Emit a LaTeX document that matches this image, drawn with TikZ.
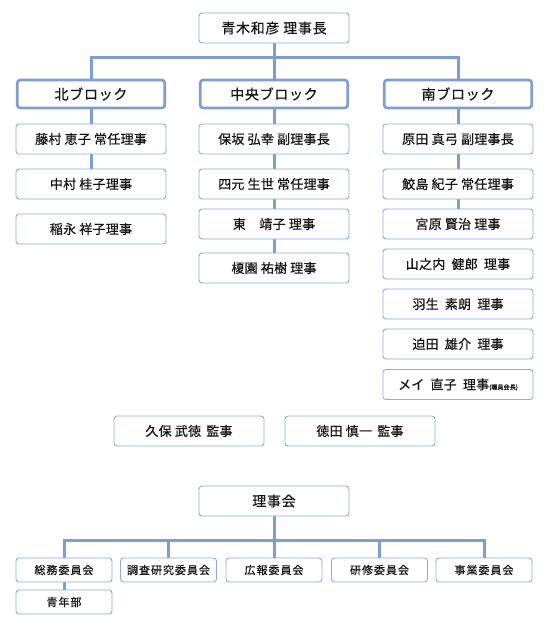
\documentclass[tikz,border=0pt]{standalone}
\usepackage{fontspec}
\setmainfont{Noto Sans CJK JP}
\newfontfamily\jpA{Noto Sans CJK JP}[LetterSpace=5,FakeBold=0.5]
\newfontfamily\jpB{Noto Sans CJK JP}[LetterSpace=2,FakeBold=0.5]
\newfontfamily\jpC{Noto Sans CJK JP}[LetterSpace=9,FakeBold=0.4]
\usetikzlibrary{backgrounds}
\definecolor{linec}{RGB}{124,158,212}
\definecolor{boxc}{RGB}{140,172,222}
\definecolor{txt}{RGB}{20,20,20}
\tikzset{
  box/.style={draw=boxc, line width=0.9pt, rounded corners=3pt, fill=white,
    minimum width=150pt, minimum height=30pt, inner sep=0pt, text=txt,
    font=\jpB\fontsize{13}{15}\selectfont},
  head/.style={box, font=\jpA\fontsize{14}{16}\selectfont},
  blockbox/.style={head, draw=linec, line width=2.6pt, minimum width=147.5pt, minimum height=28pt},
  comm/.style={box, minimum width=96pt, minimum height=24pt, font=\jpC\fontsize{11}{13}\selectfont}
}
\tikzset{conn/.style={draw=linec, line width=3pt}}
\begin{document}
\begin{tikzpicture}[x=1pt,y=-1pt]
\useasboundingbox (0,0) rectangle (550,630);
% top
\node[head] (top) at (274,28) {青木和彦 理事長};
\coordinate (j1) at (274,57);
\node[blockbox] (north) at (91,94) {北ブロック};
\node[blockbox] (center) at (274,94) {中央ブロック};
\node[blockbox] (south) at (458,94) {南ブロック};
% north
\node[box] (n1) at (91,139) {藤村 恵子 常任理事};
\node[box] (n2) at (91,184) {中村 桂子理事};
\node[box] (n3) at (91,229) {稲永 祥子理事};
% center
\node[box] (c1) at (274,139) {保坂 弘幸 副理事長};
\node[box] (c2) at (274,184) {四元 生世 常任理事};
\node[box] (c3) at (274,224) {東　靖子 理事};
\node[box] (c4) at (274,268) {榎園 祐樹 理事};
% south
\node[box] (s1) at (458,139) {原田 真弓 副理事長};
\node[box] (s2) at (458,184) {鮫島 紀子 常任理事};
\node[box] (s3) at (458,224) {宮原 賢治 理事};
\node[box] (s4) at (458,264) {山之内\hspace{3pt} 健郎\hspace{3pt} 理事};
\node[box] (s5) at (458,304) {羽生\hspace{3pt} 素朗\hspace{3pt} 理事};
\node[box] (s6) at (458,344) {迫田\hspace{3pt} 雄介\hspace{3pt} 理事};
\node[box] (s7) at (458,384.5) {メイ\hspace{3pt} 直子\hspace{3pt} 理事{\jpB\fontsize{6}{7}\selectfont (職員会長)}};
% auditors
\node[box] (a1) at (189,431) {久保 武徳\hspace{2pt} 監事};
\node[box] (a2) at (360,431) {徳田 慎一\hspace{2pt} 監事};
% board
\node[head] (board) at (274,501) {理事会};
\coordinate (j2) at (274,540);
\node[comm] (k1) at (64,570) {総務委員会};
\node[comm] (k2) at (168.5,570) {調査研究委員会};
\node[comm] (k3) at (274,570) {広報委員会};
\node[comm] (k4) at (379.5,570) {研修委員会};
\node[comm] (k5) at (484,570) {事業委員会};
\node[comm] (k6) at (64,602) {青年部};
\begin{scope}[on background layer]
\draw[conn] (top.south) -- (center.north);
\draw[conn] (north.north) -- (north.north |- j1) -- (south.north |- j1) -- (south.north);
\draw[conn] (north.south) -- (n1.north);
\draw[conn] (n1.south) -- (n2.north);
\draw[conn] (center.south) -- (c1.north);
\draw[conn] (c1.south) -- (c2.north);
\draw[conn] (c2.south) -- (c3.north);
\draw[conn] (c3.south) -- (c4.north);
\draw[conn] (south.south) -- (s1.north);
\draw[conn] (s1.south) -- (s2.north);
\draw[conn] (s2.south) -- (s3.north);
\draw[conn] (board.south) -- (k3.north);
\draw[conn] (k1.north) -- (k1.north |- j2) -- (k5.north |- j2) -- (k5.north);
\draw[conn] (k2.north |- j2) -- (k2.north);
\draw[conn] (k4.north |- j2) -- (k4.north);
\draw[conn] (k1.south) -- (k6.north);
\end{scope}
\end{tikzpicture}
\end{document}
